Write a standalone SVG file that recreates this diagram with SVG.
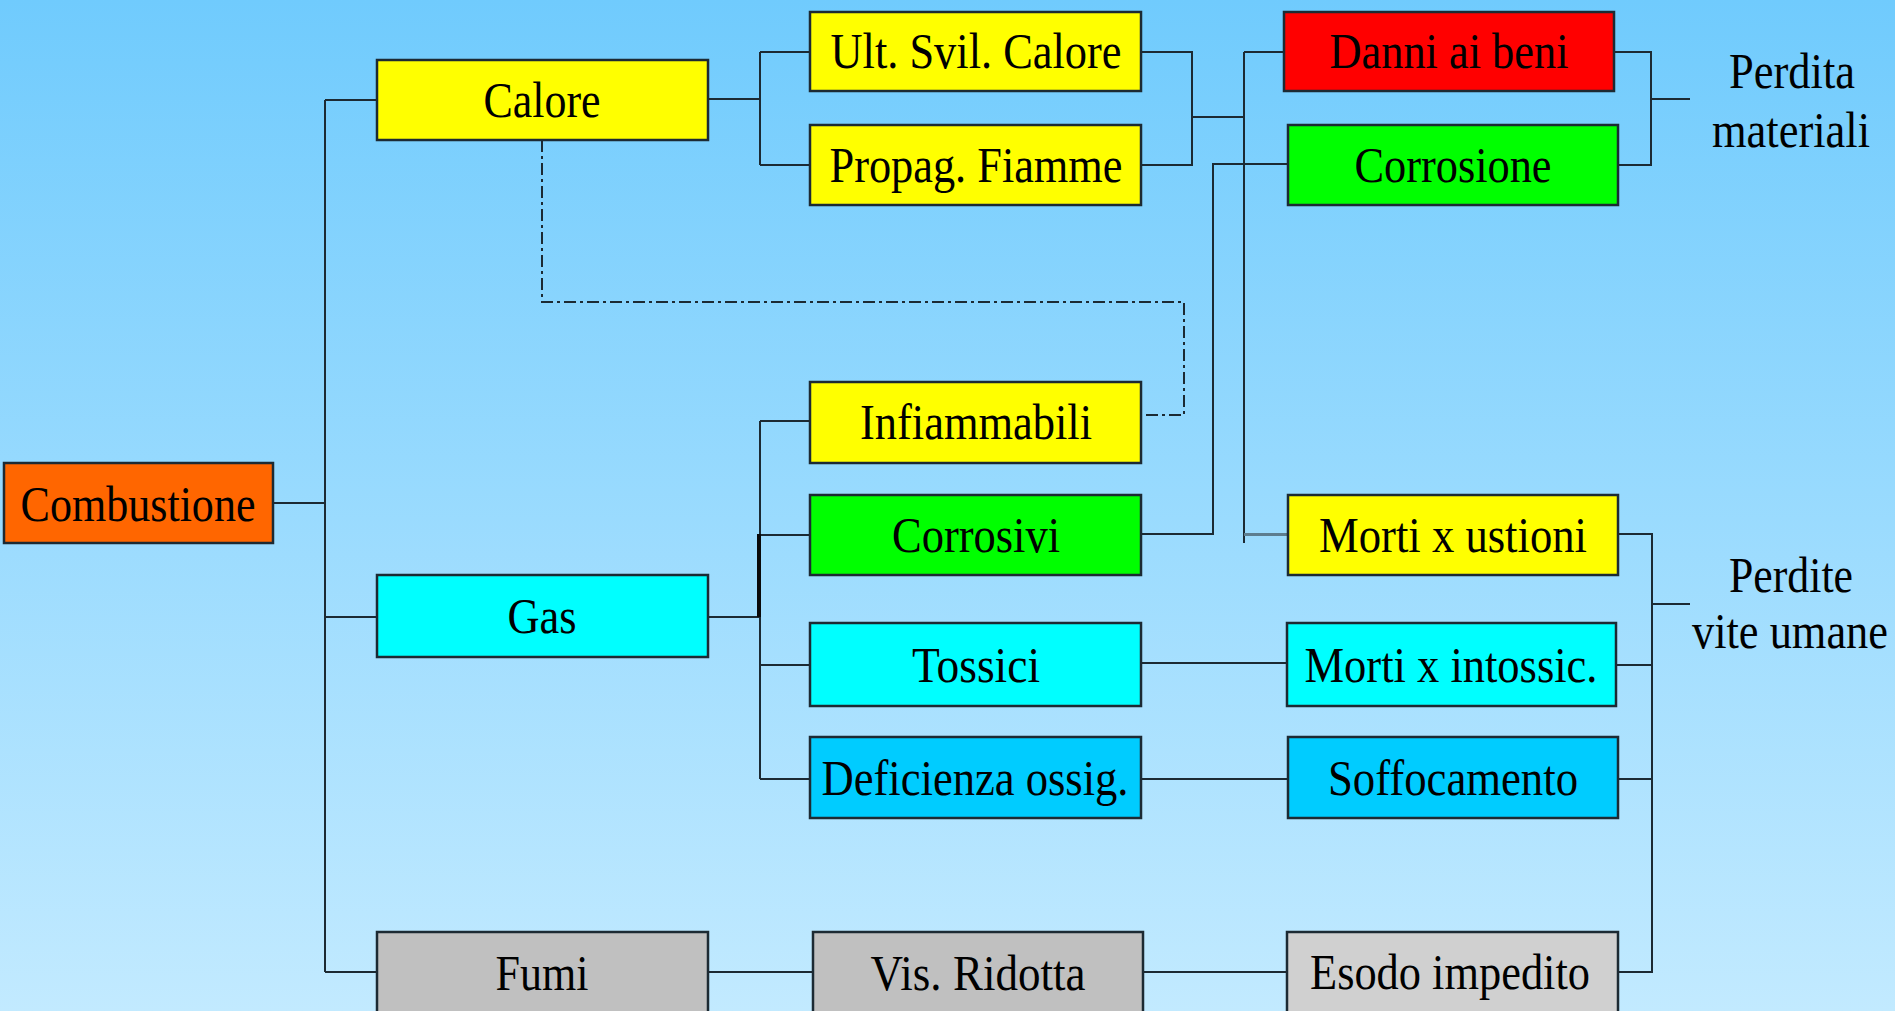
<svg xmlns="http://www.w3.org/2000/svg" width="1895" height="1011" viewBox="0 0 1895 1011">
<defs>
<linearGradient id="bg" x1="0" y1="0" x2="0" y2="1">
<stop offset="0" stop-color="#70cbfd"/>
<stop offset="1" stop-color="#c2eaff"/>
</linearGradient>
<style>
.box{stroke:#1c2a33;stroke-width:2.5}
text{font-family:"Liberation Serif","Times New Roman",serif;font-size:50px;fill:#000;text-anchor:middle}
.c{fill:none;stroke:#1c2a33;stroke-width:2}
.dd{fill:none;stroke:#1c2a33;stroke-width:2;stroke-dasharray:12 4 3 4}
.y{fill:#ffff00}.o{fill:#ff6600}.cy{fill:#00ffff}.g{fill:#c0c0c0}.lg{fill:#d0d0d0}.gr{fill:#00ff00}.r{fill:#ff0000}.b{fill:#00ccff}
</style>
</defs>
<rect x="0" y="0" width="1895" height="1011" fill="url(#bg)"/>
<g id="connectors">
<path class="c" d="M273,503 H325 M325,100 V972 M325,100 H377 M325,617 H377 M325,972 H377"/>
<path class="c" d="M708,99 H760 M760,52 V165 M760,52 H810 M760,165 H810"/>
<path class="c" d="M1141,52 H1192 V165 H1141 M1192,117 H1244 M1244,52 H1284 M1244,52 V543"/>
<path fill="none" stroke="#5d7d8f" stroke-width="3" d="M1244,534.5 H1287"/>
<path class="c" d="M1141,534 H1213 V164 H1288"/>
<path class="dd" d="M542,140 V302 H1184 V415 H1141"/>
<path class="c" d="M708,617 H760 M760,421 V779 M760,421 H810 M760,535 H810 M760,665 H810 M760,779 H810"/>
<path fill="none" stroke="#0a0a0a" stroke-width="4" d="M759,534 V617"/>
<path class="c" d="M1141,663 H1287 M1141,779 H1287 M708,972 H813 M1143,972 H1287"/>
<path class="c" d="M1614,52 H1651 V165 H1618 M1651,99 H1690"/>
<path class="c" d="M1618,534 H1652 V972 H1618 M1616,665 H1652 M1618,779 H1652 M1652,604 H1690"/>
</g>
<g id="n-combustione"><rect class="box o" x="4" y="463" width="269" height="80"/><text x="138" y="521" textLength="235" lengthAdjust="spacingAndGlyphs">Combustione</text></g>
<g id="n-calore"><rect class="box y" x="377" y="60" width="331" height="80"/><text x="542" y="117" textLength="117" lengthAdjust="spacingAndGlyphs">Calore</text></g>
<g id="n-gas"><rect class="box cy" x="377" y="575" width="331" height="82"/><text x="542" y="633" textLength="69" lengthAdjust="spacingAndGlyphs">Gas</text></g>
<g id="n-fumi"><rect class="box g" x="377" y="932" width="331" height="82"/><text x="542" y="990" textLength="93" lengthAdjust="spacingAndGlyphs">Fumi</text></g>
<g id="n-ult"><rect class="box y" x="810" y="12" width="331" height="79"/><text x="976" y="68" textLength="291" lengthAdjust="spacingAndGlyphs">Ult. Svil. Calore</text></g>
<g id="n-propag"><rect class="box y" x="810" y="125" width="331" height="80"/><text x="976" y="182" textLength="293" lengthAdjust="spacingAndGlyphs">Propag. Fiamme</text></g>
<g id="n-infiammabili"><rect class="box y" x="810" y="382" width="331" height="81"/><text x="976" y="439" textLength="232" lengthAdjust="spacingAndGlyphs">Infiammabili</text></g>
<g id="n-corrosivi"><rect class="box gr" x="810" y="495" width="331" height="80"/><text x="976" y="552" textLength="168" lengthAdjust="spacingAndGlyphs">Corrosivi</text></g>
<g id="n-tossici"><rect class="box cy" x="810" y="623" width="331" height="83"/><text x="976" y="682" textLength="128" lengthAdjust="spacingAndGlyphs">Tossici</text></g>
<g id="n-deficienza"><rect class="box b" x="810" y="737" width="331" height="81"/><text x="975" y="795" textLength="307" lengthAdjust="spacingAndGlyphs">Deficienza ossig.</text></g>
<g id="n-vis"><rect class="box g" x="813" y="932" width="330" height="82"/><text x="978" y="990" textLength="215" lengthAdjust="spacingAndGlyphs">Vis. Ridotta</text></g>
<g id="n-danni"><rect class="box r" x="1284" y="12" width="330" height="79"/><text x="1449" y="68" textLength="239" lengthAdjust="spacingAndGlyphs">Danni ai beni</text></g>
<g id="n-corrosione"><rect class="box gr" x="1288" y="125" width="330" height="80"/><text x="1453" y="182" textLength="197" lengthAdjust="spacingAndGlyphs">Corrosione</text></g>
<g id="n-ustioni"><rect class="box y" x="1288" y="495" width="330" height="80"/><text x="1453" y="552" textLength="268" lengthAdjust="spacingAndGlyphs">Morti x ustioni</text></g>
<g id="n-intossic"><rect class="box cy" x="1287" y="623" width="329" height="83"/><text x="1451" y="682" textLength="293" lengthAdjust="spacingAndGlyphs">Morti x intossic.</text></g>
<g id="n-soffocamento"><rect class="box b" x="1288" y="737" width="330" height="81"/><text x="1453" y="795" textLength="250" lengthAdjust="spacingAndGlyphs">Soffocamento</text></g>
<g id="n-esodo"><rect class="box lg" x="1287" y="932" width="331" height="82"/><text x="1450" y="989" textLength="280" lengthAdjust="spacingAndGlyphs">Esodo impedito</text></g>
<g id="n-perdita-materiali"><text x="1792" y="88" textLength="126" lengthAdjust="spacingAndGlyphs">Perdita</text><text x="1791" y="147" textLength="158" lengthAdjust="spacingAndGlyphs">materiali</text></g>
<g id="n-perdite-vite"><text x="1791" y="592" textLength="124" lengthAdjust="spacingAndGlyphs">Perdite</text><text x="1790" y="648" textLength="196" lengthAdjust="spacingAndGlyphs">vite umane</text></g>
</svg>
